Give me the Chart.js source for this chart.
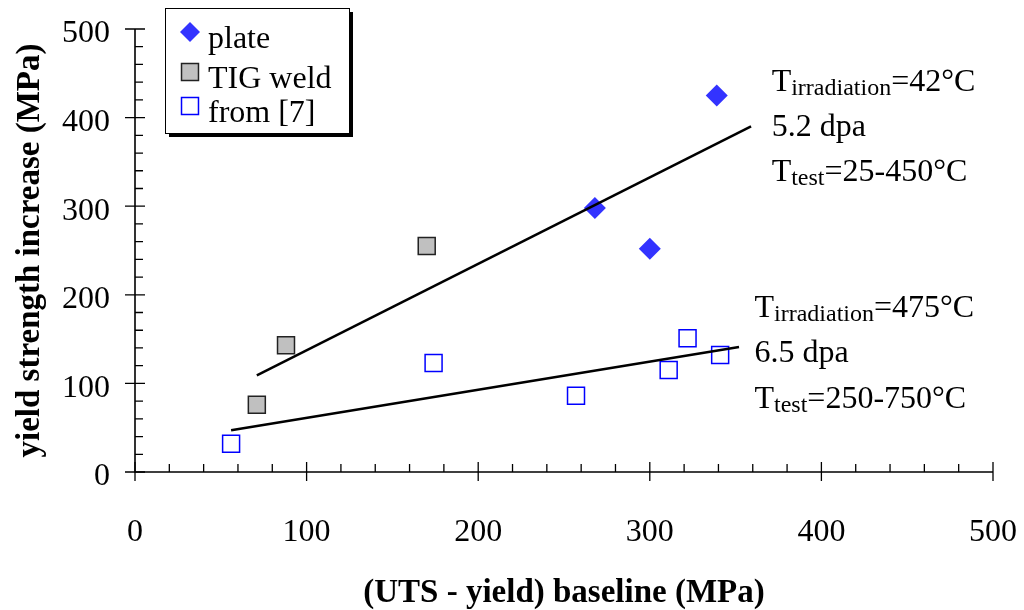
<!DOCTYPE html>
<html>
<head>
<meta charset="utf-8">
<title>Yield strength increase vs (UTS - yield) baseline</title>
<script src="https://cdn.jsdelivr.net/npm/chart.js@4.4.1/dist/chart.umd.min.js"></script>
<style>
  html, body { margin: 0; padding: 0; background: #fff; }
  #wrap { width: 1024px; height: 610px; position: relative; }
</style>
</head>
<body>
<div id="wrap"><canvas id="ysChart"></canvas></div>
<script>
// axis range and tick spacing (MPa)
const AXIS_MIN = 0;
const AXIS_MAX = 500;
const MAJOR_STEP = 100;
const MINOR_STEP = 20;

// plate, T_irr = 42 C
const PLATE_X = [268, 300, 339];
const PLATE_Y = [298, 252, 425];

// TIG weld, T_irr = 42 C
const WELD_X = [71, 88, 170];
const WELD_Y = [76, 143, 255];

// literature data [7], T_irr = 475 C
const REF7_X = [56, 174, 257, 311, 322, 341];
const REF7_Y = [32, 123, 86, 115, 151, 132];

// linear fits
const FIT_42_X = [71, 359];
const FIT_42_Y = [109, 390];
const FIT_475_X = [56, 352];
const FIT_475_Y = [47, 141];

// text blocks next to the fits: [main, subscript, rest]
const NOTE_42 = [["T", "irradiation", "=42°C"], ["5.2 dpa"], ["T", "test", "=25-450°C"]];
const NOTE_475 = [["T", "irradiation", "=475°C"], ["6.5 dpa"], ["T", "test", "=250-750°C"]];

const zip = (xs, ys) => xs.map((v, i) => ({x: v, y: ys[i]}));

const FONT = "'Liberation Serif', 'Times New Roman', serif";
Chart.defaults.font.family = FONT;
Chart.defaults.color = "#000";

////////////////////////////////////////////////////////////////////////////////
// datasets
////////////////////////////////////////////////////////////////////////////////
const fitStyle = {
    type: "line", showLine: true, pointRadius: 0, borderColor: "#000",
    borderWidth: 2.5, fill: false, order: 0,
};

const datasets = [
    {...fitStyle, label: "fit 42C", data: zip(FIT_42_X, FIT_42_Y)},
    {...fitStyle, label: "fit 475C", data: zip(FIT_475_X, FIT_475_Y)},
    {
        label: "plate", data: zip(PLATE_X, PLATE_Y), order: 1,
        pointStyle: "rectRot", pointRadius: 11,
        backgroundColor: "#3333ff", borderColor: "#3333ff", borderWidth: 0,
    },
    {
        label: "TIG weld", data: zip(WELD_X, WELD_Y), order: 1,
        pointStyle: "rect", pointRadius: 12,
        backgroundColor: "#c0c0c0", borderColor: "#222", borderWidth: 1.5,
    },
    {
        label: "from [7]", data: zip(REF7_X, REF7_Y), order: 1,
        pointStyle: "rect", pointRadius: 12,
        backgroundColor: "rgba(255,255,255,0)", borderColor: "#0000ff", borderWidth: 1.5,
    },
];

////////////////////////////////////////////////////////////////////////////////
// plugins: axes with crossing major ticks, boxed legend, text notes
////////////////////////////////////////////////////////////////////////////////
const axisTicks = {
    id: "axisTicks",
    afterDraw(chart) {
        const {ctx, scales: {x, y}} = chart;
        const x0 = x.getPixelForValue(AXIS_MIN);
        const y0 = y.getPixelForValue(AXIS_MIN);
        ctx.save();
        ctx.strokeStyle = "#000";
        ctx.lineWidth = 1.6;
        ctx.beginPath();
        ctx.moveTo(x0, y.getPixelForValue(AXIS_MAX));
        ctx.lineTo(x0, y0);
        ctx.lineTo(x.getPixelForValue(AXIS_MAX), y0);
        ctx.stroke();

        ctx.lineWidth = 1.3;
        ctx.beginPath();
        for (let v = AXIS_MIN; v <= AXIS_MAX; v += MINOR_STEP) {
            const major = v % MAJOR_STEP === 0;
            const px = x.getPixelForValue(v);
            const py = y.getPixelForValue(v);
            if (major) {
                ctx.moveTo(px, y0 - 10); ctx.lineTo(px, y0 + 9);
                ctx.moveTo(x0 - 10, py); ctx.lineTo(x0 + 10, py);
            } else {
                ctx.moveTo(px, y0 - 8); ctx.lineTo(px, y0);
                ctx.moveTo(x0, py); ctx.lineTo(x0 + 8, py);
            }
        }
        ctx.stroke();
        ctx.restore();
    },
};

const drawMarker = (ctx, ds, cx, cy) => {
    ctx.save();
    ctx.fillStyle = ds.backgroundColor;
    ctx.strokeStyle = ds.borderColor;
    ctx.lineWidth = ds.borderWidth;
    ctx.beginPath();
    if (ds.pointStyle === "rectRot") {
        const r = ds.pointRadius - 1;
        ctx.moveTo(cx, cy - r); ctx.lineTo(cx + r, cy);
        ctx.lineTo(cx, cy + r); ctx.lineTo(cx - r, cy);
        ctx.closePath();
    } else {
        const h = ds.pointRadius * Math.SQRT1_2;
        ctx.rect(cx - h, cy - h, 2 * h, 2 * h);
    }
    ctx.fill();
    if (ds.borderWidth > 0) ctx.stroke();
    ctx.restore();
};

const boxLegend = {
    id: "boxLegend",
    afterDraw(chart) {
        const {ctx} = chart;
        const left = 165, top = 8, w = 184, h = 125;
        const rows = [48, 88, 122];
        ctx.save();
        ctx.fillStyle = "#000";
        ctx.fillRect(left + 4, top + 4, w, h);
        ctx.fillStyle = "#fff";
        ctx.fillRect(left, top, w, h);
        ctx.strokeStyle = "#000";
        ctx.lineWidth = 1;
        ctx.strokeRect(left + 0.5, top + 0.5, w, h);

        const items = chart.data.datasets.filter(d => d.type !== "line");
        ctx.font = `32px ${FONT}`;
        ctx.textBaseline = "alphabetic";
        items.forEach((ds, i) => {
            drawMarker(ctx, ds, left + 25, rows[i] - 16);
            ctx.fillStyle = "#000";
            ctx.fillText(ds.label, left + 43, rows[i]);
        });
        ctx.restore();
    },
};

const drawNote = (ctx, lines, px, py, gaps) => {
    let base = py;
    lines.forEach((parts, i) => {
        let cx = px;
        ctx.font = `32px ${FONT}`;
        ctx.fillText(parts[0], cx, base);
        cx += ctx.measureText(parts[0]).width;
        if (parts.length > 1) {
            ctx.font = `24px ${FONT}`;
            ctx.fillText(parts[1], cx, base + 4);
            cx += ctx.measureText(parts[1]).width;
            ctx.font = `32px ${FONT}`;
            ctx.fillText(parts[2], cx, base);
        }
        base += gaps[i] || 0;
    });
};

const fitNotes = {
    id: "fitNotes",
    afterDraw(chart) {
        const {ctx, scales: {x, y}} = chart;
        ctx.save();
        ctx.fillStyle = "#000";
        ctx.textBaseline = "alphabetic";
        drawNote(ctx, NOTE_42, x.getPixelForValue(371), y.getPixelForValue(430), [45, 45]);
        drawNote(ctx, NOTE_475, x.getPixelForValue(361), y.getPixelForValue(175), [45, 46]);
        ctx.restore();
    },
};

// fixed scale boxes; tick-label overhang must not shrink the plot area
const fixBox = (size) => (scale)=>{
    if (scale.isHorizontal()) scale.height = size; else scale.width = size;
    scale.paddingTop = scale.paddingBottom = scale.paddingLeft = scale.paddingRight = 0;
};

////////////////////////////////////////////////////////////////////////////////
// chart
////////////////////////////////////////////////////////////////////////////////
const createChart = ()=>{
    const canvas = document.querySelector("#ysChart");
    return new Chart(canvas, {
        type: "scatter",
        data: {datasets},
        options: {
            responsive: true,
            maintainAspectRatio: false,
            animation: false,
            layout: {padding: {top: 29, right: 31, left: 0, bottom: 0}},
            plugins: {legend: {display: false}, tooltip: {enabled: false}},
            scales: {
                x: {
                    type: "linear", min: AXIS_MIN, max: AXIS_MAX,
                    grid: {display: false, drawTicks: false},
                    border: {display: false},
                    ticks: {stepSize: MAJOR_STEP, padding: 41, font: {size: 32}, color: "#000"},
                    title: {
                        display: true, text: "(UTS - yield) baseline (MPa)", color: "#000",
                        font: {size: 33, weight: "bold", lineHeight: 1.0},
                        padding: {top: 0, bottom: 0},
                    },
                    afterFit: fixBox(138),
                },
                y: {
                    type: "linear", min: AXIS_MIN, max: AXIS_MAX,
                    grid: {display: false, drawTicks: false},
                    border: {display: false},
                    ticks: {stepSize: MAJOR_STEP, padding: 25, labelOffset: 5, font: {size: 32}, color: "#000"},
                    title: {
                        display: true, text: "yield strength increase (MPa)", color: "#000",
                        font: {size: 33, weight: "bold", lineHeight: 1.0},
                        padding: {top: 14, bottom: 0},
                    },
                    afterFit: fixBox(135),
                },
            },
        },
        plugins: [axisTicks, boxLegend, fitNotes],
    });
};

createChart();
</script>
</body>
</html>
